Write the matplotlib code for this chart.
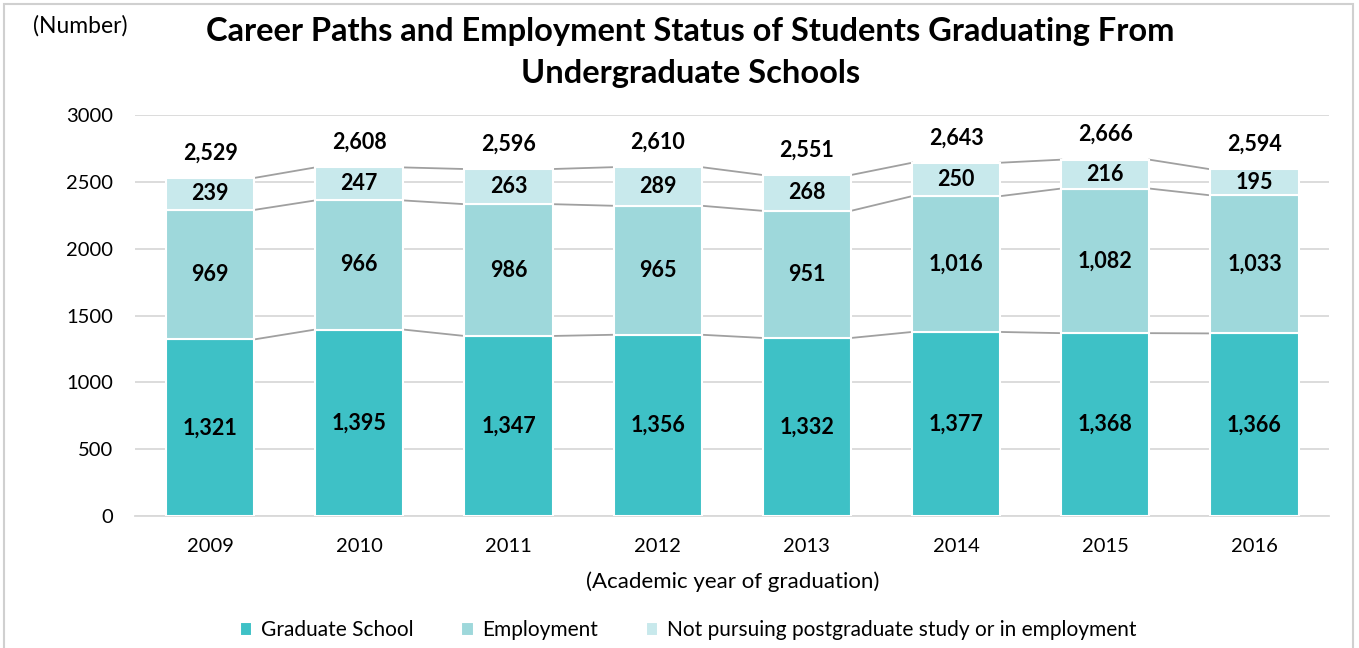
import matplotlib.pyplot as plt
from matplotlib.patches import Rectangle
import numpy as np

plt.rcParams['font.family'] = ['Lato', 'DejaVu Sans']

# data
years = ['2009', '2010', '2011', '2012', '2013', '2014', '2015', '2016']
grad_school = [1321, 1395, 1347, 1356, 1332, 1377, 1368, 1366]
employment = [969, 966, 986, 965, 951, 1016, 1082, 1033]
not_pursuing = [239, 247, 263, 289, 268, 250, 216, 195]
totals = [2529, 2608, 2596, 2610, 2551, 2643, 2666, 2594]

labels = ['Graduate School', 'Employment',
          'Not pursuing postgraduate study or in employment']
colors = ['#3EC1C6', '#9ED8DB', '#C8E9EC']

fig = plt.figure(figsize=(13.59, 6.48), dpi=100)
ax = fig.add_axes([0.0997, 0.2037, 0.8783, 0.6188])

x = np.arange(len(years))
width = 0.59
series = [grad_school, employment, not_pursuing]
bottom = np.zeros(len(years))
for vals, col, lab in zip(series, colors, labels):
    vals = np.array(vals)
    ax.bar(x, vals, width, bottom=bottom, color=col, edgecolor='white',
           linewidth=1.5, label=lab, zorder=3)
    for xi, b, v in zip(x, bottom, vals):
        ax.text(xi, b + v / 2, f'{v:,}', ha='center', va='center',
                fontsize=15.5, fontweight='bold', color='black', zorder=4)
    bottom = bottom + vals
    # series lines between bars
    for i in range(len(years) - 1):
        ax.plot([x[i] + width / 2, x[i + 1] - width / 2],
                [bottom[i], bottom[i + 1]], color='#A0A0A0', lw=1.3, zorder=2)

# totals above bars
for xi, t in zip(x, totals):
    ax.annotate(f'{t:,}', (xi, t), xytext=(0, 18), textcoords='offset points',
                ha='center', va='center', fontsize=15.5, fontweight='bold')

ax.set_xlim(-0.5, len(years) - 0.5)
ax.set_ylim(0, 3000)
ax.set_yticks(range(0, 3001, 500))
ax.set_xticks(x)
ax.set_xticklabels(years)
ax.tick_params(length=0, labelsize=14.5, pad=16)
ax.tick_params(axis='y', pad=16)
ax.grid(axis='y', color='#D9D9D9', lw=1.3, zorder=0)
for s in ['top', 'right', 'left']:
    ax.spines[s].set_visible(False)
ax.spines['bottom'].set_color('#D9D9D9')
ax.spines['bottom'].set_linewidth(1.3)

ax.set_xlabel('(Academic year of graduation)', fontsize=16, labelpad=12)

fig.text(0.0243, 0.96, '(Number)', fontsize=16.5, va='center', ha='left')
fig.text(0.508, 0.952, 'Career Paths and Employment Status of Students Graduating From',
         fontsize=23.5, fontweight='bold', ha='center', va='center')
fig.text(0.508, 0.887, 'Undergraduate Schools',
         fontsize=23.5, fontweight='bold', ha='center', va='center')

ax.legend(loc='center', bbox_to_anchor=(0.463, -0.285), ncol=3, frameon=False,
          fontsize=15, handlelength=0.6, handleheight=0.6, columnspacing=2.3,
          handletextpad=0.4)

fig.patches.append(Rectangle((4 / 1359, -0.05), 1349 / 1359, 1.05 - 4 / 648,
                             transform=fig.transFigure, fill=False,
                             edgecolor='#D0D0D0', lw=1.5))

fig.savefig('out.png', dpi=100)
